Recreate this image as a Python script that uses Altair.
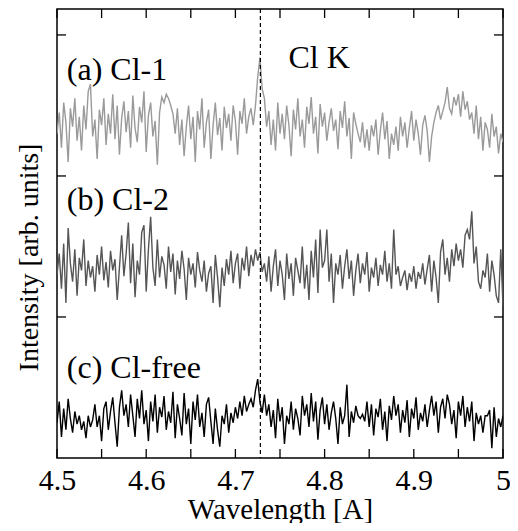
import altair as alt
import pandas as pd

# Spectra (arbitrary intensity units, offset per sample)
x_start, x_end = 4.5, 5.0

cl1 = [2.30,2.45,2.20,2.52,2.38,2.10,2.48,2.35,2.55,2.25,2.42,2.18,2.50,2.33,2.60,
       2.65,
       2.28,2.40,2.12,2.47,2.36,2.55,2.22,2.44,2.30,2.58,2.26,2.50,2.15,2.41,2.53,
       2.31,2.46,2.20,2.57,2.34,2.24,2.49,2.38,2.60,2.17,2.43,2.52,2.28,2.39,2.08,
       2.45,2.56,2.52,2.58,2.55,2.50,2.44,2.30,2.48,2.22,2.40,
       2.14,2.35,2.50,2.26,2.42,2.10,2.46,2.33,2.55,2.20,2.38,2.47,2.12,2.36,
       2.52,2.29,2.41,2.18,2.49,2.34,2.44,2.25,2.50,2.39,2.15,2.46,2.37,2.55,2.30,
       2.42,2.48,2.36,
       2.50,2.70,2.84,2.62,2.55,2.35,2.46,
       2.22,2.40,2.18,2.52,2.30,2.44,2.26,2.50,2.36,2.14,2.47,2.33,2.55,2.28,2.40,
       2.20,2.49,2.37,2.56,2.30,2.42,2.16,2.51,2.35,2.45,2.25,2.38,2.48,2.32,2.40,
       2.19,2.46,2.34,2.53,2.28,2.41,2.12,2.45,2.37,2.30,2.24,2.38,2.20,2.33,2.18,
       2.36,2.28,2.40,2.15,2.32,2.45,2.26,2.39,2.12,2.30,2.22,2.35,2.18,2.42,2.28,
       2.38,2.20,2.34,2.46,2.25,2.40,2.30,2.15,2.36,2.43,2.32,2.10,2.28,2.38,2.45,
       2.50,2.40,2.46,2.52,2.63,2.48,2.44,2.56,2.50,2.58,2.42,2.60,2.47,2.53,2.40,
       2.45,2.30,2.50,2.26,2.42,2.18,2.38,2.33,2.20,2.44,2.28,2.35,2.16,2.30,2.24]

cl2 = [1.30,1.45,1.20,1.52,1.10,1.63,1.38,1.25,1.48,1.15,1.42,1.33,1.55,1.22,1.40,1.28,
       1.36,1.18,1.44,1.30,1.50,1.26,1.39,1.21,1.47,1.33,1.41,1.12,1.35,1.58,1.29,
       1.45,1.67,1.24,1.52,1.14,1.40,1.30,1.60,1.65,1.18,1.48,1.71,1.35,1.22,1.55,
       1.28,1.43,1.37,1.20,1.50,1.32,1.45,1.16,1.40,1.27,1.47,1.34,1.12,1.42,1.30,
       1.38,1.21,1.46,1.33,1.25,1.40,1.18,1.31,1.36,1.10,1.44,1.28,1.07,1.35,1.22,
       1.41,1.30,1.47,1.24,1.38,1.45,1.20,1.42,1.33,1.50,1.29,1.44,1.36,1.48,1.40,
       1.46,1.32,1.38,1.25,1.43,1.18,1.36,1.48,1.22,1.40,1.30,1.12,1.45,1.27,1.38,
       1.15,1.42,1.33,1.24,1.50,1.20,1.37,1.12,1.47,1.28,1.55,1.17,1.62,1.35,1.40,
       1.62,1.25,1.45,1.10,1.38,1.30,1.44,1.20,1.36,1.48,1.27,1.40,1.15,1.33,1.45,
       1.24,1.38,1.30,1.46,1.18,1.35,1.28,1.42,1.22,1.37,1.30,1.47,1.25,1.38,1.20,
       1.62,1.30,1.36,1.22,1.28,1.33,1.19,1.31,1.25,1.36,1.20,1.32,1.27,1.38,1.23,
       1.34,1.44,1.18,1.40,1.28,1.10,1.46,1.55,1.30,1.42,1.25,1.48,1.36,1.52,1.40,
       1.48,1.35,1.58,1.62,1.55,1.75,1.38,1.50,1.25,1.20,1.33,1.28,1.45,1.18,1.40,
       1.30,1.15,1.10,1.48,1.08]

clfree = [0.25,0.40,0.15,0.35,0.20,0.42,0.28,0.18,0.33,0.24,0.30,0.20,0.26,0.14,0.30,0.22,
          0.27,0.38,0.22,0.30,0.12,0.35,0.40,0.20,0.33,0.43,0.25,0.08,0.36,0.48,0.30,
          0.38,0.22,0.45,0.30,0.15,0.42,0.28,0.48,0.24,0.34,0.12,0.40,0.26,0.45,0.18,
          0.36,0.29,0.44,0.20,0.33,0.25,0.47,0.14,0.38,0.28,0.16,0.46,0.24,0.35,0.10,
          0.40,0.27,0.45,0.22,0.32,0.15,0.38,0.43,0.26,0.10,0.35,0.20,0.08,0.30,0.24,
          0.38,0.18,0.32,0.25,0.36,0.28,0.40,0.30,0.44,0.33,0.38,0.42,0.36,0.48,0.56,
          0.40,0.32,0.45,0.30,0.38,0.22,0.34,0.14,0.42,0.26,0.36,0.10,0.30,0.24,0.40,
          0.20,0.35,0.28,0.16,0.44,0.30,0.38,0.22,0.46,0.26,0.40,0.13,0.34,0.43,0.24,
          0.38,0.20,0.32,0.40,0.28,0.10,0.36,0.24,0.30,0.52,0.15,0.33,0.25,0.37,0.30,
          0.28,0.31,0.26,0.40,0.22,0.38,0.16,0.35,0.29,0.42,0.20,0.33,0.12,0.37,0.27,
          0.44,0.30,0.38,0.18,0.34,0.25,0.41,0.15,0.35,0.28,0.43,0.20,0.32,0.26,0.38,
          0.22,0.34,0.44,0.30,0.40,0.18,0.36,0.42,0.28,0.45,0.38,0.24,0.34,0.14,0.40,
          0.30,0.44,0.22,0.36,0.26,0.40,0.12,0.32,0.24,0.30,0.18,0.30,0.30,0.34,0.07,
          0.36,0.15,0.28,0.22,0.30]

series_names = ["(a) Cl-1", "(b) Cl-2", "(c) Cl-free"]
series_colors = ["#9a9a9a", "#555555", "#000000"]

label_text = ["(a) Cl-1", "(b) Cl-2", "(c) Cl-free", "Cl K"]
label_x = [4.511, 4.511, 4.511, 4.7595]
label_y = [2.75, 1.83, 0.64, 2.84]

cl_k_line = [4.728]
x_ticks = [4.5, 4.55, 4.6, 4.65, 4.7, 4.75, 4.8, 4.85, 4.9, 4.95, 5.0]
x_tick_labels = [4.5, 4.6, 4.7, 4.8, 4.9, 5.0]
y_ticks = [1, 2, 3]
y_max = 3.184

rows = []
for name, vals in zip(series_names, [cl1, cl2, clfree]):
    n = len(vals)
    for i, v in enumerate(vals):
        rows.append({"series": name, "wl": x_start + (x_end - x_start) * i / (n - 1), "I": v, "order": i})
df = pd.DataFrame(rows)

W, H = 446, 449
FONT = "Liberation Serif"

xscale = alt.Scale(domain=[x_start, x_end], nice=False, zero=False)
yscale = alt.Scale(domain=[0, y_max], nice=False, zero=False)

lines = alt.Chart(df).mark_line(strokeWidth=1.4, clip=True).encode(
    x=alt.X("wl:Q", scale=xscale,
            axis=alt.Axis(title="Wavelength [A]", values=x_tick_labels, ticks=False, domain=False,
                          grid=False, labelFont=FONT, labelFontSize=30, labelColor="black",
                          labelPadding=7, labelFlush=False,
                          labelExpr="datum.value == 5 ? '5' : format(datum.value, '.1f')",
                          titleFont=FONT, titleFontSize=29, titleFontWeight="normal",
                          titleColor="black", titleBaseline="alphabetic", titleY=60)),
    y=alt.Y("I:Q", scale=yscale,
            axis=alt.Axis(title="Intensity [arb. units]", labels=False, ticks=False, domain=False,
                          grid=False, titleFont=FONT, titleFontSize=28, titleFontWeight="normal",
                          titleColor="black", titleBaseline="alphabetic", titleAngle=270,
                          titleX=-20, titleY=248)),
    color=alt.Color("series:N", scale=alt.Scale(domain=series_names, range=series_colors), legend=None),
    order="order:Q",
    detail="series:N",
)

vline = alt.Chart(pd.DataFrame({"wl": cl_k_line})).mark_rule(
    color="black", strokeDash=[4, 3], strokeWidth=1.2
).encode(x=alt.X("wl:Q", scale=xscale))

texts = alt.Chart(pd.DataFrame({"t": label_text, "x": label_x, "y": label_y})).mark_text(
    font=FONT, fontSize=32, align="left", baseline="middle", color="black"
).encode(x=alt.X("x:Q", scale=xscale), y=alt.Y("y:Q", scale=yscale), text="t:N")

xt = pd.DataFrame({"wl": x_ticks})
bottom_ticks = alt.Chart(xt).mark_rule(color="black", strokeWidth=1.3).encode(
    x=alt.X("wl:Q", scale=xscale), y=alt.value(H), y2=alt.value(H - 9))
top_ticks = alt.Chart(xt).mark_rule(color="black", strokeWidth=1.3).encode(
    x=alt.X("wl:Q", scale=xscale), y=alt.value(0), y2=alt.value(9))

yt = pd.DataFrame({"I": y_ticks})
left_ticks = alt.Chart(yt).mark_rule(color="black", strokeWidth=1.3).encode(
    y=alt.Y("I:Q", scale=yscale), x=alt.value(0), x2=alt.value(9))
right_ticks = alt.Chart(yt).mark_rule(color="black", strokeWidth=1.3).encode(
    y=alt.Y("I:Q", scale=yscale), x=alt.value(W - 9), x2=alt.value(W))

chart = alt.layer(lines, vline, texts, bottom_ticks, top_ticks, left_ticks, right_ticks).properties(
    width=W, height=H,
    autosize=alt.AutoSizeParams(type="none"),
    padding={"left": 49, "top": 1, "right": 7, "bottom": 65},
).configure(
    font=FONT, background="white",
    view=alt.ViewConfig(stroke="black", strokeWidth=1.5),
)

chart.save("out.html", embed_options={"renderer": "svg", "actions": False})
